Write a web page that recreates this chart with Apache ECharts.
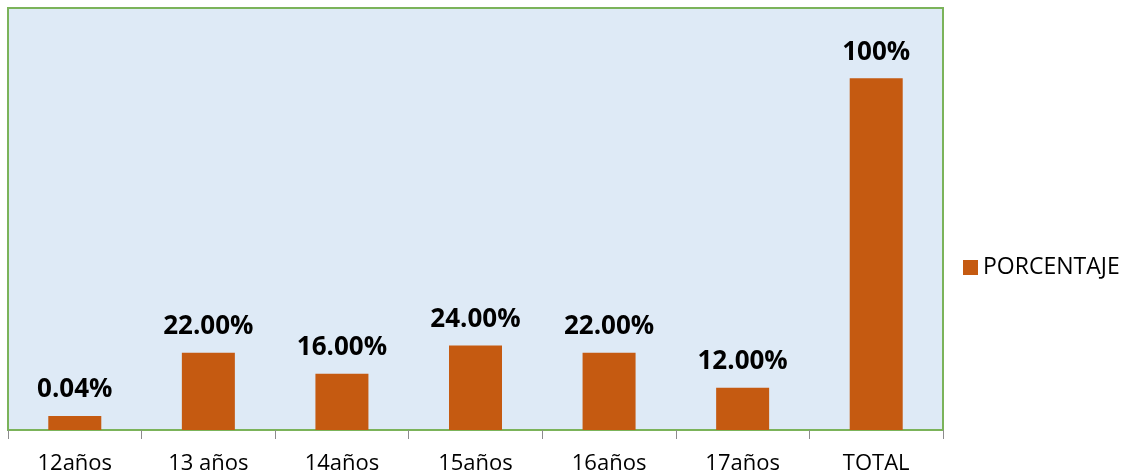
<!DOCTYPE html>
<html>
<head>
    <meta charset="UTF-8">
    <title>PORCENTAJE</title>
    <script type="text/javascript" src="https://cdn.jsdelivr.net/npm/echarts@6/dist/echarts.min.js"></script>
    <style>
        html, body { margin: 0; padding: 0; background: #fff; }
        #main { width: 1126px; height: 476px; }
    </style>
</head>
<body>
<div id="main"></div>
<script type="text/javascript">
    // datos
    var categorias = ['12años', '13 años', '14años', '15años', '16años', '17años', 'TOTAL'];
    var porcentaje = [0.04, 0.22, 0.16, 0.24, 0.22, 0.12, 1.00];
    var etiquetas = ['0.04%', '22.00%', '16.00%', '24.00%', '22.00%', '12.00%', '100%'];

    var myChart = echarts.init(document.getElementById('main'));
    myChart.setOption({
        animation: false,
        textStyle: { fontFamily: 'Open Sans, Noto Sans, sans-serif' },
        grid: {
            left: 8, right: 183, top: 8, bottom: 46,
            show: true,
            backgroundColor: '#DEEAF6',
            borderColor: '#7BB35A',
            borderWidth: 2
        },
        legend: {
            data: ['PORCENTAJE'],
            orient: 'vertical',
            left: 958, top: 251,
            itemWidth: 15, itemHeight: 15, itemGap: 6,
            icon: 'rect',
            textStyle: { fontSize: 23, color: '#000', fontFamily: 'Open Sans' }
        },
        xAxis: {
            type: 'category',
            data: categorias,
            axisLine: { show: false },
            axisTick: { show: true, length: 9, lineStyle: { color: '#8c8c8c' } },
            axisLabel: { fontSize: 22, color: '#000', margin: 23 }
        },
        yAxis: {
            type: 'value',
            min: 0, max: 1.2,
            show: false,
            splitLine: { show: false }
        },
        series: [{
            name: 'PORCENTAJE',
            type: 'bar',
            data: porcentaje,
            barWidth: 53,
            itemStyle: { color: '#C55A11' },
            label: {
                show: true,
                position: 'top',
                distance: 13,
                fontSize: 26,
                fontWeight: 'bold',
                color: '#000',
                formatter: function (p) { return etiquetas[p.dataIndex]; }
            }
        }]
    });
</script>
</body>
</html>
